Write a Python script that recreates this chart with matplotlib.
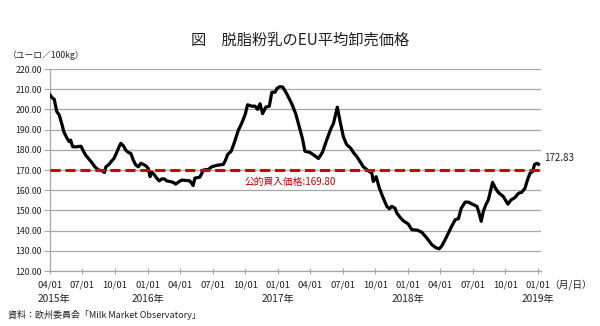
import pandas as pd
import numpy as np
import matplotlib
matplotlib.use("Agg")
import matplotlib.pyplot as plt

plt.rcParams['font.family'] = ['Noto Sans CJK JP', 'DejaVu Sans']

# 週次の価格データ
dates = [
    "2015-04-01", "2015-04-08", "2015-04-13", "2015-04-20", "2015-04-27", "2015-05-04",
    "2015-05-10", "2015-05-18", "2015-05-25", "2015-05-29", "2015-06-04", "2015-06-15",
    "2015-06-27", "2015-07-04", "2015-07-10", "2015-07-18", "2015-07-27", "2015-08-05",
    "2015-08-15", "2015-08-24", "2015-09-01", "2015-09-05", "2015-09-14", "2015-09-21",
    "2015-09-28", "2015-10-05", "2015-10-12", "2015-10-17", "2015-10-24", "2015-10-31",
    "2015-11-07", "2015-11-14", "2015-11-21", "2015-11-28", "2015-12-05", "2015-12-12",
    "2015-12-19", "2015-12-26", "2016-01-02", "2016-01-07", "2016-01-12", "2016-01-18",
    "2016-01-26", "2016-02-02", "2016-02-09", "2016-02-16", "2016-02-23", "2016-03-03",
    "2016-03-12", "2016-03-19", "2016-03-27", "2016-04-05", "2016-04-14", "2016-04-28",
    "2016-05-07", "2016-05-12", "2016-05-26", "2016-06-05", "2016-06-19", "2016-06-28",
    "2016-07-12", "2016-07-31", "2016-08-05", "2016-08-12", "2016-08-22", "2016-09-02",
    "2016-09-11", "2016-09-20", "2016-09-30", "2016-10-07", "2016-10-19", "2016-10-28",
    "2016-11-04", "2016-11-11", "2016-11-18", "2016-11-27", "2016-12-07", "2016-12-14",
    "2016-12-23", "2016-12-29", "2017-01-06", "2017-01-14", "2017-01-25", "2017-02-08",
    "2017-02-19", "2017-02-28", "2017-03-10", "2017-03-17", "2017-03-31", "2017-04-14",
    "2017-04-24", "2017-05-05", "2017-05-17", "2017-05-29", "2017-06-05", "2017-06-16",
    "2017-06-24", "2017-07-03", "2017-07-12", "2017-07-24", "2017-07-31", "2017-08-10",
    "2017-08-19", "2017-08-28", "2017-09-08", "2017-09-21", "2017-09-25", "2017-10-03",
    "2017-10-12", "2017-10-23", "2017-11-02", "2017-11-09", "2017-11-16", "2017-11-25",
    "2017-11-30", "2017-12-09", "2017-12-18", "2018-01-01", "2018-01-11", "2018-01-27",
    "2018-02-08", "2018-02-22", "2018-03-08", "2018-03-20", "2018-03-29", "2018-04-05",
    "2018-04-15", "2018-04-24", "2018-05-03", "2018-05-13", "2018-05-22", "2018-05-30",
    "2018-06-10", "2018-06-19", "2018-06-30", "2018-07-13", "2018-07-19", "2018-07-25",
    "2018-07-31", "2018-08-07", "2018-08-14", "2018-08-21", "2018-08-26", "2018-09-02",
    "2018-09-11", "2018-09-25", "2018-10-08", "2018-10-17", "2018-10-28", "2018-11-07",
    "2018-11-16", "2018-11-25", "2018-12-02", "2018-12-09", "2018-12-16", "2018-12-22",
    "2018-12-29", "2019-01-02",
]
prices = [
    207.2, 205.6, 205.0, 199.0, 197.2, 193.0,
    188.9, 186.0, 184.0, 184.8, 181.5, 181.5,
    181.8, 179.3, 177.4, 175.7, 173.8, 171.6,
    170.0, 169.7, 168.8, 171.6, 172.8, 174.4,
    175.8, 178.5, 181.5, 183.2, 182.0, 179.8,
    178.7, 178.2, 174.9, 172.5, 171.6, 173.3,
    172.8, 172.1, 170.8, 166.7, 168.9, 167.9,
    165.9, 164.6, 165.6, 165.6, 164.6, 164.3,
    163.9, 163.0, 164.1, 165.0, 164.9, 164.6,
    162.3, 166.0, 166.5, 170.0, 170.3, 171.6,
    172.3, 172.8, 174.5, 177.7, 179.3, 184.8,
    189.7, 193.0, 197.4, 202.3, 201.6, 201.6,
    200.0, 202.8, 197.9, 201.1, 201.6, 208.5,
    208.5, 210.5, 211.3, 211.0, 207.7, 202.8,
    197.9, 192.1, 185.6, 179.3, 178.7, 177.0,
    175.7, 178.7, 184.8, 190.5, 193.0, 201.1,
    193.8, 186.4, 182.6, 180.7, 178.7, 176.6,
    174.1, 171.6, 170.0, 168.4, 164.3, 166.7,
    161.0, 156.1, 152.0, 150.8, 152.0, 151.1,
    148.7, 146.6, 144.9, 143.3, 140.5, 140.2,
    139.2, 136.4, 133.1, 131.5, 131.0, 132.3,
    135.6, 138.9, 142.1, 145.4, 145.9, 151.1,
    154.1, 154.1, 153.1, 152.0, 148.7, 144.6,
    149.5, 152.8, 155.2, 160.2, 163.9, 161.3,
    158.9, 156.9, 153.1, 155.2, 156.4, 158.5,
    159.0, 161.0, 165.1, 168.4, 169.2, 172.8,
    173.3, 172.83,
]

intervention_price = 169.80
tick_dates = pd.date_range("2015-04-01", "2019-01-01", freq="3MS")
year_labels = {"2015-04-01": "2015年", "2016-01-01": "2016年", "2017-01-01": "2017年",
               "2018-01-01": "2018年", "2019-01-01": "2019年"}

df = pd.DataFrame({"Date": pd.to_datetime(dates), "Price": prices})

fig = plt.figure(figsize=(6, 3.26), dpi=100)
ax = fig.add_axes([0.0833, 0.1687, 0.8184, 0.6196])

grid_col = "#a6a6a6"
ax.plot(df["Date"], df["Price"], color="black", lw=2.3, zorder=3)
ax.axhline(intervention_price, color="#d00000", lw=2.2, ls=(0, (3.3, 1.6)), zorder=4)

ax.set_ylim(120, 220)
ax.set_yticks(np.arange(120, 221, 10))
ax.yaxis.set_major_formatter(plt.FormatStrFormatter("%.2f"))
ax.grid(axis="y", color=grid_col, lw=0.9)
ax.set_axisbelow(True)

ax.set_xlim(pd.Timestamp("2015-04-01"), pd.Timestamp("2019-01-09"))
ax.set_xticks(tick_dates)
ax.set_xticklabels([d.strftime("%m/%d") for d in tick_dates])

for s in ["top", "right"]:
    ax.spines[s].set_visible(False)
for s in ["left", "bottom"]:
    ax.spines[s].set_color(grid_col)
    ax.spines[s].set_linewidth(0.9)

ax.tick_params(axis="y", length=4, color=grid_col, labelsize=6.3, pad=2, labelcolor="#222222")
ax.tick_params(axis="x", length=5, direction="inout", color=grid_col, labelsize=6.8,
               pad=4.5, labelcolor="#222222")

# 年のラベル
for d, lab in year_labels.items():
    dx = 3 if d == "2015-04-01" else 0
    ax.annotate(lab, (pd.Timestamp(d), 120), xytext=(dx, -20.5), textcoords="offset points",
                ha="center", va="center", fontsize=7.3, color="#222222")

ax.annotate("公的買入価格:169.80", (pd.Timestamp("2016-09-27"), intervention_price),
            xytext=(0, -8), textcoords="offset points", ha="left", va="center",
            fontsize=7, color="#c00000")
ax.annotate("172.83", (df["Date"].iloc[-1], df["Price"].iloc[-1]), xytext=(4, 1),
            textcoords="offset points", ha="left", va="bottom", fontsize=7, color="#222222")

fig.text(0.5, 0.877, "図　脱脂粉乳のEU平均卸売価格", ha="center", va="center", fontsize=11,
         color="#222222")
fig.text(0.013, 0.832, "（ユーロ／100kg）", ha="left", va="center", fontsize=6.3, color="#222222")
fig.text(0.915, 0.128, "（月/日）", ha="left", va="center", fontsize=7, color="#222222")
fig.text(0.013, 0.034, "資料：欧州委員会「Milk Market Observatory」", ha="left", va="center",
         fontsize=6.5, color="#222222")

fig.savefig("out.png", dpi=100)
